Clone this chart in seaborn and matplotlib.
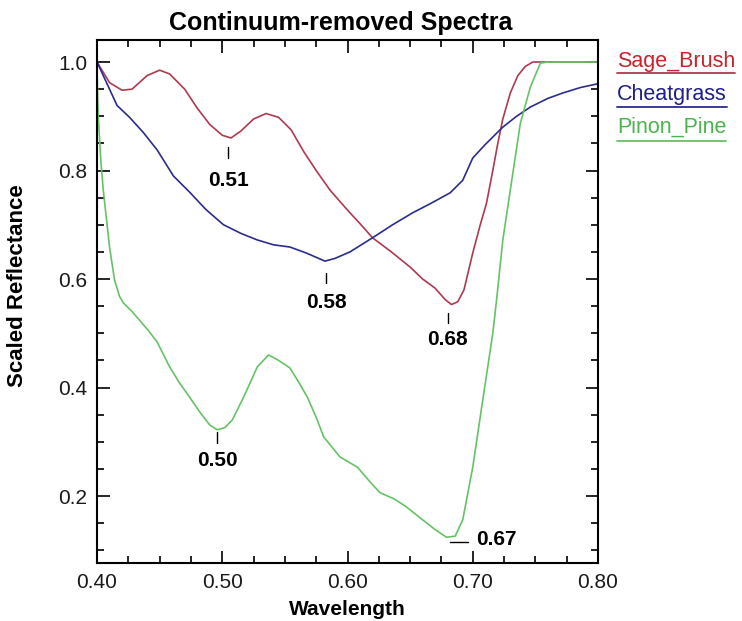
import numpy as np
import pandas as pd
import matplotlib
matplotlib.use("Agg")
import matplotlib.pyplot as plt
from matplotlib.lines import Line2D
from matplotlib.ticker import MultipleLocator, FormatStrFormatter
import seaborn as sns

# ---------------- data ----------------
series_names = ["Sage_Brush", "Cheatgrass", "Pinon_Pine"]

sage_wl = [0.400, 0.410, 0.420, 0.428, 0.440, 0.450, 0.458, 0.470, 0.480, 0.490,
           0.500, 0.507, 0.515, 0.525, 0.535, 0.545, 0.555, 0.565, 0.575, 0.586,
           0.600, 0.610, 0.620, 0.635, 0.650, 0.660, 0.670, 0.678, 0.683, 0.688,
           0.693, 0.700, 0.706, 0.711, 0.716, 0.720, 0.724, 0.730, 0.736, 0.742,
           0.748, 0.760, 0.780, 0.800]
sage_val = [1.000, 0.962, 0.948, 0.950, 0.975, 0.985, 0.978, 0.950, 0.915, 0.885,
            0.865, 0.860, 0.873, 0.895, 0.905, 0.898, 0.875, 0.835, 0.800, 0.764,
            0.727, 0.702, 0.676, 0.650, 0.622, 0.600, 0.583, 0.562, 0.553, 0.558,
            0.580, 0.648, 0.700, 0.740, 0.800, 0.850, 0.895, 0.943, 0.975, 0.992,
            1.000, 1.000, 1.000, 1.000]

cheat_wl = [0.400, 0.405, 0.410, 0.416, 0.426, 0.437, 0.448, 0.461, 0.474, 0.487,
            0.501, 0.515, 0.528, 0.541, 0.554, 0.567, 0.575, 0.582, 0.590, 0.602,
            0.620, 0.636, 0.652, 0.667, 0.682, 0.692, 0.700, 0.710, 0.724, 0.735,
            0.746, 0.760, 0.772, 0.786, 0.800]
cheat_val = [1.000, 0.975, 0.950, 0.920, 0.898, 0.870, 0.838, 0.790, 0.760, 0.728,
             0.700, 0.684, 0.672, 0.663, 0.659, 0.648, 0.640, 0.633, 0.638, 0.650,
             0.676, 0.700, 0.722, 0.740, 0.759, 0.782, 0.823, 0.848, 0.880, 0.900,
             0.917, 0.933, 0.943, 0.953, 0.960]

pinon_wl = [0.400, 0.401, 0.403, 0.405, 0.410, 0.414, 0.418, 0.421, 0.428, 0.434,
            0.441, 0.448, 0.458, 0.466, 0.474, 0.482, 0.490, 0.496, 0.502, 0.508,
            0.517, 0.528, 0.537, 0.545, 0.554, 0.561, 0.568, 0.575, 0.581, 0.594,
            0.608, 0.618, 0.626, 0.637, 0.647, 0.660, 0.670, 0.679, 0.686, 0.692,
            0.700, 0.708, 0.716, 0.719, 0.724, 0.732, 0.738, 0.746, 0.754, 0.760,
            0.780, 0.800]
pinon_val = [0.985, 0.900, 0.820, 0.764, 0.659, 0.598, 0.568, 0.556, 0.540, 0.524,
             0.505, 0.484, 0.438, 0.408, 0.382, 0.355, 0.331, 0.322, 0.326, 0.340,
             0.382, 0.438, 0.460, 0.450, 0.436, 0.410, 0.382, 0.345, 0.309, 0.272,
             0.253, 0.226, 0.206, 0.195, 0.180, 0.156, 0.138, 0.124, 0.126, 0.156,
             0.253, 0.377, 0.500, 0.561, 0.672, 0.795, 0.887, 0.954, 0.998, 1.000,
             1.000, 1.000]

# band-minimum annotations
min_labels = ["0.51", "0.58", "0.68", "0.50"]
min_x = [0.5046, 0.5830, 0.6800, 0.4960]
min_tick_top = [0.843, 0.611, 0.537, 0.318]
min_tick_bot = [0.823, 0.593, 0.519, 0.298]
min_text_y = [0.781, 0.556, 0.488, 0.266]

pinon_min_label = "0.67"

xticks = [0.40, 0.50, 0.60, 0.70, 0.80]
yticks = [0.2, 0.4, 0.6, 0.8, 1.0]

# ---------------- styling ----------------
line_colors = {"Sage_Brush": "#ad3a50", "Cheatgrass": "#2c2c8e", "Pinon_Pine": "#66c266"}
text_colors = {"Sage_Brush": "#c8232d", "Cheatgrass": "#1e1e8c", "Pinon_Pine": "#4db34d"}

sns.set_theme(style="ticks")
plt.rcParams["font.family"] = ["Liberation Sans", "DejaVu Sans"]
plt.rcParams["text.color"] = "black"
plt.rcParams["axes.labelcolor"] = "black"
plt.rcParams["xtick.color"] = "black"
plt.rcParams["ytick.color"] = "black"

df = pd.concat([
    pd.DataFrame({"Wavelength": sage_wl, "Reflectance": sage_val, "Spectrum": "Sage_Brush"}),
    pd.DataFrame({"Wavelength": cheat_wl, "Reflectance": cheat_val, "Spectrum": "Cheatgrass"}),
    pd.DataFrame({"Wavelength": pinon_wl, "Reflectance": pinon_val, "Spectrum": "Pinon_Pine"}),
], ignore_index=True)

fig = plt.figure(figsize=(7.42, 6.21), dpi=100)
ax = fig.add_axes([97 / 742, 1 - 563 / 621, 501 / 742, 523 / 621])

sns.lineplot(data=df, x="Wavelength", y="Reflectance", hue="Spectrum",
             hue_order=series_names, palette=line_colors, sort=False,
             estimator=None, legend=False, linewidth=1.2, ax=ax)

ax.set_xlim(0.40, 0.80)
ax.set_ylim(0.0765, 1.0406)

ax.set_xticks(xticks)
ax.set_yticks(yticks)
ax.xaxis.set_major_formatter(FormatStrFormatter("%.2f"))
ax.yaxis.set_major_formatter(FormatStrFormatter("%.1f"))
ax.xaxis.set_minor_locator(MultipleLocator(0.025))
ax.yaxis.set_minor_locator(MultipleLocator(0.05))
ax.tick_params(which="both", direction="in", top=True, right=True, color="black",
               width=1.2)
ax.tick_params(which="major", length=9, labelsize=15, pad=7, labelcolor="#1a1a1a")
ax.tick_params(which="minor", length=5)
for s in ax.spines.values():
    s.set_linewidth(1.5)
    s.set_color("black")

ax.set_xlabel("Wavelength", fontsize=15, fontweight="bold", labelpad=6)
ax.set_ylabel("Scaled Reflectance", fontsize=16, fontweight="bold")
ax.yaxis.set_label_coords(-0.138, 0.530)
ax.set_title("Continuum-removed Spectra", fontsize=18, fontweight="bold", pad=7,
             x=0.486)

# minimum markers
for lab, x, yt, yb, ty in zip(min_labels, min_x, min_tick_top, min_tick_bot, min_text_y):
    ax.plot([x, x], [yb, yt], color="black", lw=1.0)
    ax.text(x, ty, lab, ha="center", va="center", fontsize=15, fontweight="bold")

ax.plot([0.682, 0.696], [0.115, 0.115], color="black", lw=1.0)
ax.text(0.703, 0.119, pinon_min_label, ha="left", va="center",
        fontsize=15, fontweight="bold")

# custom legend: coloured text with underline outside axes
fig.canvas.draw()
renderer = fig.canvas.get_renderer()
legend_baselines = [67, 100, 133]
underline_y = [73, 107, 141]
for name, base, uy in zip(series_names, legend_baselines, underline_y):
    t = fig.text(617 / 742, 1 - base / 621, name, fontsize=15.5,
                 color=text_colors[name], ha="left", va="baseline")
    bb = t.get_window_extent(renderer)
    x0 = bb.x0 / fig.bbox.width
    x1 = bb.x1 / fig.bbox.width
    fig.add_artist(Line2D([x0, x1], [1 - uy / 621, 1 - uy / 621],
                          color=line_colors[name], lw=1.3,
                          transform=fig.transFigure))

fig.savefig("out.png", dpi=100)
